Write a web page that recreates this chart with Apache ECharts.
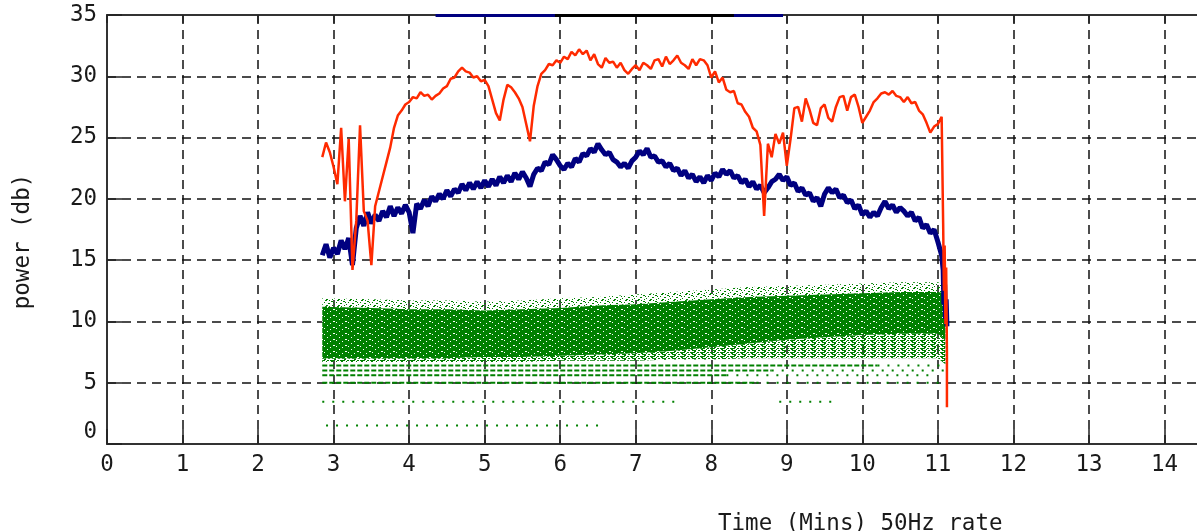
<!DOCTYPE html>
<html>
<head>
<meta charset="utf-8">
<title>power (db)</title>
<script src="https://cdn.jsdelivr.net/npm/echarts@6.0.0/dist/echarts.min.js"></script>
<style>
  html, body { margin: 0; padding: 0; background: #fff; }
  #chart { width: 1197px; height: 531px; }
</style>
</head>
<body>
<div id="chart"></div>
<script>
// samples every 0.05 min starting at 2.85 min
const xStart = 2.85;
const xStep = 0.05;

const blueValues = [
  15.4, 16.3, 15.2, 16.0, 15.5, 16.6, 15.9, 16.8, 14.6, 17.6,
  18.6, 17.8, 18.9, 18.0, 18.7, 18.2, 19.0, 18.5, 19.4, 18.6,
  19.3, 18.8, 19.5, 18.9, 17.2, 19.6, 19.2, 19.9, 19.4, 20.2,
  19.8, 20.4, 20.0, 20.7, 20.2, 20.8, 20.5, 21.2, 20.7, 21.3,
  20.8, 21.4, 20.9, 21.5, 21.0, 21.6, 21.1, 21.8, 21.3, 21.9,
  21.4, 22.1, 21.6, 22.2, 21.7, 21.0, 22.0, 22.5, 22.3, 23.0,
  22.8, 23.6, 23.2, 22.7, 22.4, 22.9, 22.6, 23.3, 23.0, 23.7,
  23.5, 24.1, 23.8, 24.5, 24.0, 23.6, 23.8, 23.2, 23.0, 22.6,
  22.9, 22.5, 23.1, 23.4, 23.9, 23.6, 24.1, 23.4, 23.5, 23.0,
  23.1, 22.6, 22.9, 22.3, 22.5, 21.9, 22.3, 21.7, 22.0, 21.4,
  21.8, 21.3, 21.9, 21.5, 22.1, 21.8, 22.4, 22.0, 22.3, 21.7,
  21.9, 21.3, 21.6, 21.0, 21.4, 20.8, 21.1, 20.5, 20.9, 21.4,
  21.6, 22.0, 21.5, 21.8, 21.1, 21.3, 20.6, 20.9, 20.3, 20.5,
  19.8, 20.1, 19.4, 20.4, 20.9, 20.5, 20.8, 20.1, 20.3, 19.7,
  19.9, 19.2, 19.5, 18.7, 19.0, 18.5, 18.9, 18.6, 19.3, 19.8,
  19.2, 19.5, 18.9, 19.3, 19.0, 18.6, 18.9, 18.2, 18.5, 17.6,
  17.9, 17.2, 17.5, 16.5, 15.4
];
const blueTail = [[11.07, 14.2], [11.08, 11.4], [11.09, 13.0], [11.1, 10.2], [11.11, 11.8], [11.12, 9.6]];

const redValues = [
  23.4, 24.6, 23.8, 22.6, 21.2, 25.8, 19.8, 24.9, 14.2, 18.2,
  26.0, 19.0, 18.2, 14.6, 19.4, 20.6, 21.8, 23.0, 24.2, 25.8,
  26.8, 27.2, 27.7, 27.9, 28.3, 28.2, 28.7, 28.4, 28.5, 28.1,
  28.4, 28.6, 29.0, 29.2, 29.8, 29.9, 30.4, 30.7, 30.4, 30.3,
  29.9, 30.0, 29.6, 29.7, 29.2, 28.1, 27.0, 26.4, 28.1, 29.3,
  29.1, 28.7, 28.2, 27.5, 26.1, 24.7, 27.6, 29.2, 30.2, 30.5,
  31.0, 30.9, 31.3, 31.1, 31.6, 31.4, 32.0, 31.7, 32.2, 31.8,
  32.1, 31.3, 31.8, 31.0, 30.7, 31.5, 31.1, 31.2, 30.7, 31.1,
  30.5, 30.2, 30.6, 30.9, 30.5, 31.1, 30.9, 30.6, 31.3, 31.4,
  30.8, 31.6, 31.0, 31.3, 31.7, 31.1, 30.9, 30.6, 31.4, 30.9,
  31.4, 31.3, 30.9, 29.9, 30.4, 29.5, 29.9, 28.9, 28.7, 28.8,
  27.8, 27.7, 27.1, 26.7, 25.8, 25.5, 24.4, 18.6, 24.5, 23.4,
  25.3, 24.5, 25.4, 22.7, 24.9, 27.4, 27.5, 26.3, 28.2, 27.3,
  26.2, 26.0, 27.4, 27.7, 26.6, 26.3, 27.5, 28.3, 28.4, 27.2,
  28.3, 28.5, 27.5, 26.2, 26.7, 27.2, 27.9, 28.2, 28.6, 28.7,
  28.5, 28.8, 28.4, 28.3, 27.9, 28.3, 27.8, 27.9, 27.2, 26.9,
  26.2, 25.4, 25.9, 26.1, 26.7
];
const redTail = [[11.07, 18.0], [11.08, 12.5], [11.09, 16.2], [11.1, 9.8], [11.11, 14.4], [11.12, 7.5], [11.12, 3.0]];

// green cloud outline
const greenX     = [2.85, 3.5, 4, 4.5, 5, 5.5, 6, 6.5, 7, 7.5, 8, 8.5, 9, 9.5, 10, 10.5, 11, 11.1];
const greenFloor = [6.7, 6.7, 6.7, 6.7, 6.7, 6.7, 6.8, 6.8, 6.8, 6.9, 6.9, 7.0, 7.0, 7.0, 7.0, 7.0, 7.0, 6.5];
const coreLow    = [7.0, 7.0, 7.0, 7.0, 7.1, 7.1, 7.2, 7.3, 7.4, 7.6, 7.9, 8.2, 8.5, 8.7, 8.9, 9.0, 9.0, 8.5];
const coreHigh   = [11.2, 11.1, 11.0, 11.0, 10.9, 11.0, 11.1, 11.3, 11.4, 11.6, 11.8, 12.0, 12.1, 12.2, 12.3, 12.4, 12.4, 12.3];
const greenCeil  = [11.9, 11.8, 11.7, 11.7, 11.6, 11.7, 11.9, 12.0, 12.2, 12.4, 12.6, 12.8, 12.9, 13.0, 13.1, 13.2, 13.2, 13.0];

// quantised rows under the cloud: [level, from, to]
const denseRows  = [[6.4, 2.85, 10.2], [6.0, 2.85, 8.8], [5.6, 2.85, 8.2], [5.0, 2.85, 8.6]];
const sparseRows = [[6.4, 10.2, 11.1], [6.0, 8.8, 11.1], [5.6, 8.2, 10.9], [5.0, 8.6, 11.1], [3.45, 2.85, 7.6], [3.45, 8.9, 9.6], [1.5, 2.9, 6.6]];

// clipped bar along the top edge: [from, to]
const topBar = [[4.35, 8.95], [5.93, 8.3]];

const xTicks = [0, 15, 1];
const yTicks = [0, 35, 5];

const FONT = 'DejaVu Sans Mono';
const INK = '#1a1a1a';
const RED = '#ff2a00';
const BLUE = '#000080';
const GREEN = '#008000';

function pattern(w, h, fill, dot, cells) {
  const c = document.createElement('canvas');
  c.width = w; c.height = h;
  const g = c.getContext('2d');
  if (fill) { g.fillStyle = fill; g.fillRect(0, 0, w, h); }
  g.fillStyle = dot;
  cells.forEach(([x, y, cw]) => g.fillRect(x, y, cw, 1));
  return { image: c, repeat: 'repeat' };
}

const corePat = pattern(12, 6, GREEN, '#ffffff', [[3, 1, 1], [9, 3, 2], [6, 5, 1], [0, 4, 1]]);
const lowPat = pattern(10, 4, null, GREEN, [[0, 0, 5], [7, 0, 2], [1, 1, 2], [6, 1, 1], [2, 2, 4], [8, 2, 2], [4, 3, 2]]);
const topPat = pattern(12, 6, null, GREEN, [[1, 0, 2], [5, 0, 1], [7, 1, 2], [0, 2, 1], [9, 2, 1], [4, 3, 2], [10, 4, 1], [2, 5, 2], [8, 5, 1]]);

const lineData = (vals, tail) => vals.map((v, i) => [+(xStart + i * xStep).toFixed(2), v]).concat(tail);

// one polygon per band, between two outlines
function bandSeries(low, high, fill) {
  const data = greenX.map((x, i) => [x, low[i], high[i]]);
  return {
    type: 'custom', silent: true, z: 1, data,
    encode: { x: 0, y: [1, 2] },
    renderItem: (params, api) => {
      if (params.dataIndex !== 0) return null;
      const pts = data.map(d => api.coord([d[0], d[1]]))
        .concat(data.slice().reverse().map(d => api.coord([d[0], d[2]])));
      return { type: 'polygon', shape: { points: pts }, style: { fill: fill } };
    }
  };
}

const rowSeries = (rows, dash, width) => rows.map(r => ({
  type: 'line', silent: true, z: 2, symbol: 'none',
  data: [[r[1], r[0]], [r[2], r[0]]],
  lineStyle: { color: GREEN, width: width, type: dash }
}));

const chart = echarts.init(document.getElementById('chart'));

const axisLine = { show: true, onZero: false, lineStyle: { color: '#333', width: 2 } };
const gridLine = { show: true, lineStyle: { color: '#111', width: 1.5, type: [9, 6] } };
const labelText = { color: INK, fontFamily: FONT, fontSize: 22.5 };

const option = {
  animation: false,
  title: {
    text: 'Time (Mins) 50Hz rate',
    left: 713, top: 506,
    textStyle: { ...labelText, fontWeight: 'normal', lineHeight: 26 }
  },
  grid: {
    left: 107, right: -43, top: 15, bottom: 87,
    containLabel: false,
    outerBoundsMode: 'none'
  },
  xAxis: [
    {
      type: 'value', min: xTicks[0], max: xTicks[1], interval: xTicks[2], position: 'bottom',
      axisLine: axisLine,
      axisTick: { show: true, inside: true, length: 15, lineStyle: { color: '#222', width: 1.5 } },
      axisLabel: { ...labelText, margin: 10, showMinLabel: true, showMaxLabel: true },
      splitLine: gridLine
    },
    {
      type: 'value', min: xTicks[0], max: xTicks[1], interval: xTicks[2], position: 'top',
      axisLine: axisLine,
      axisTick: { show: true, inside: true, length: 8, lineStyle: { color: '#222', width: 1.5 } },
      axisLabel: { show: false },
      splitLine: { show: false }
    }
  ],
  yAxis: {
    type: 'value', min: yTicks[0], max: yTicks[1], interval: yTicks[2],
    name: 'power (db)', nameLocation: 'middle', nameGap: 72,
    nameTextStyle: { ...labelText, padding: [0, 24, 0, 0] },
    axisLine: axisLine,
    axisTick: { show: true, inside: true, length: 15, lineStyle: { color: '#222', width: 1.5 } },
    axisLabel: {
      ...labelText, margin: 10,
      formatter: v => (v === 0 ? '{z|0}' : String(v)),
      rich: { z: { ...labelText, padding: [0, 0, 24, 0] } }
    },
    splitLine: gridLine
  },
  series: [
    bandSeries(greenFloor, coreLow, lowPat),
    bandSeries(coreHigh, greenCeil, topPat),
    bandSeries(coreLow, coreHigh, corePat),
    ...rowSeries(denseRows, [5, 2], 2),
    ...rowSeries(sparseRows, [2, 8], 2),
    {
      type: 'line', name: 'blue', z: 3, symbol: 'none', silent: true,
      data: lineData(blueValues, blueTail),
      lineStyle: { color: BLUE, width: 5 },
      markLine: {
        symbol: 'none', silent: true, label: { show: false },
        data: [
          [{ coord: [topBar[0][0], yTicks[1]], lineStyle: { color: BLUE, width: 3, type: 'solid' } }, { coord: [topBar[0][1], yTicks[1]] }],
          [{ coord: [topBar[1][0], yTicks[1]], lineStyle: { color: '#000', width: 3, type: 'solid' } }, { coord: [topBar[1][1], yTicks[1]] }]
        ]
      }
    },
    {
      type: 'line', name: 'red', z: 4, symbol: 'none', silent: true,
      data: lineData(redValues, redTail),
      lineStyle: { color: RED, width: 2.5 }
    }
  ]
};

chart.setOption(option);
</script>
</body>
</html>
